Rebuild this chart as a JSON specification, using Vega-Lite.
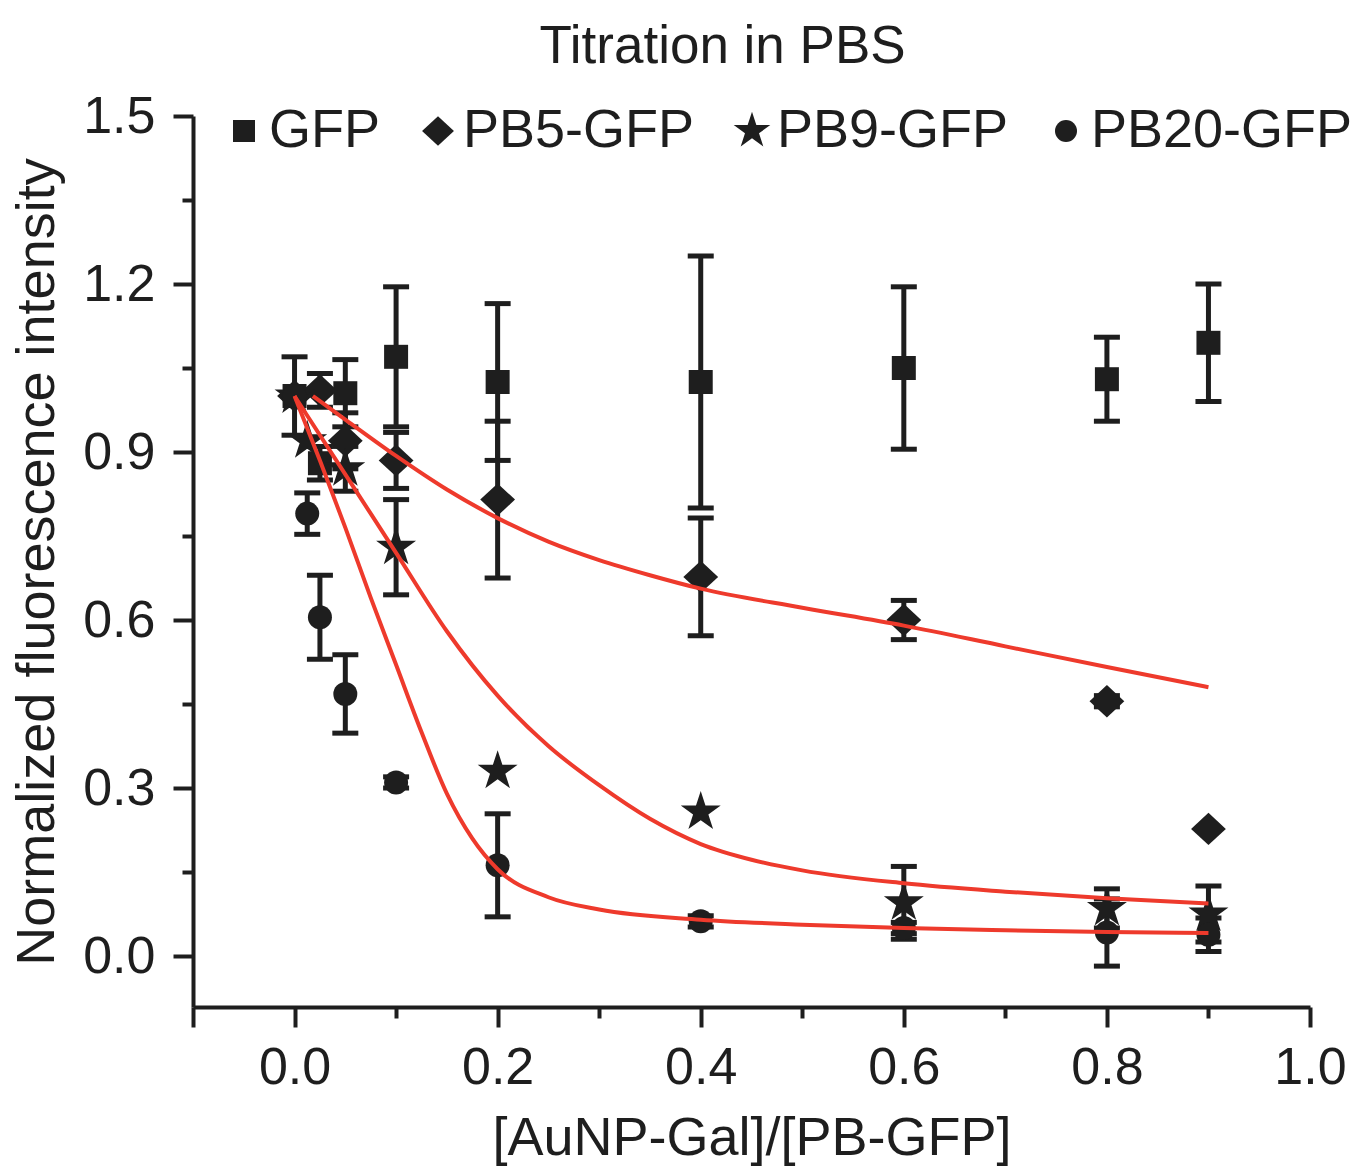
{
  "$schema": "https://vega.github.io/schema/vega-lite/v6.json",
  "autosize": "none",
  "width": 1117,
  "height": 891,
  "padding": {"left": 193, "top": 116, "right": 53, "bottom": 160},
  "background": "white",
  "title": {
    "text": "Titration in PBS",
    "font": "Liberation Sans",
    "fontSize": 53,
    "fontWeight": "normal",
    "color": "#1e1e1e",
    "anchor": "middle",
    "frame": "group",
    "baseline": "alphabetic",
    "offset": -26,
    "dx": -29
  },
  "config": {
    "view": {"stroke": null},
    "axis": {"grid": false}
  },
  "datasets": {
    "pts": [
      {"series": "GFP", "x": 0, "y": 1.0, "err": 0.07},
      {"series": "GFP", "x": 0.025, "y": 0.88, "err": 0.03},
      {"series": "GFP", "x": 0.05, "y": 1.005, "err": 0.06},
      {"series": "GFP", "x": 0.1, "y": 1.07, "err": 0.125},
      {"series": "GFP", "x": 0.2, "y": 1.025, "err": 0.14},
      {"series": "GFP", "x": 0.4, "y": 1.025, "err": 0.225},
      {"series": "GFP", "x": 0.6, "y": 1.05, "err": 0.145},
      {"series": "GFP", "x": 0.8, "y": 1.03, "err": 0.075},
      {"series": "GFP", "x": 0.9, "y": 1.095, "err": 0.105},
      {"series": "PB5-GFP", "x": 0, "y": 1.0, "err": 0},
      {"series": "PB5-GFP", "x": 0.025, "y": 1.01, "err": 0.03},
      {"series": "PB5-GFP", "x": 0.05, "y": 0.92, "err": 0.05},
      {"series": "PB5-GFP", "x": 0.1, "y": 0.885, "err": 0.05},
      {"series": "PB5-GFP", "x": 0.2, "y": 0.815, "err": 0.14},
      {"series": "PB5-GFP", "x": 0.4, "y": 0.677, "err": 0.105},
      {"series": "PB5-GFP", "x": 0.6, "y": 0.6, "err": 0.035},
      {"series": "PB5-GFP", "x": 0.8, "y": 0.455, "err": 0.01},
      {"series": "PB5-GFP", "x": 0.9, "y": 0.227, "err": 0},
      {"series": "PB9-GFP", "x": 0, "y": 1.0, "err": 0},
      {"series": "PB9-GFP", "x": 0.0125, "y": 0.92, "err": 0},
      {"series": "PB9-GFP", "x": 0.05, "y": 0.87, "err": 0.04},
      {"series": "PB9-GFP", "x": 0.1, "y": 0.73, "err": 0.085},
      {"series": "PB9-GFP", "x": 0.2, "y": 0.33, "err": 0},
      {"series": "PB9-GFP", "x": 0.4, "y": 0.257, "err": 0},
      {"series": "PB9-GFP", "x": 0.6, "y": 0.095, "err": 0.065},
      {"series": "PB9-GFP", "x": 0.8, "y": 0.085, "err": 0.035},
      {"series": "PB9-GFP", "x": 0.9, "y": 0.075, "err": 0.05},
      {"series": "PB20-GFP", "x": 0, "y": 1.0, "err": 0},
      {"series": "PB20-GFP", "x": 0.0125, "y": 0.79, "err": 0.037},
      {"series": "PB20-GFP", "x": 0.025, "y": 0.605, "err": 0.075},
      {"series": "PB20-GFP", "x": 0.05, "y": 0.468, "err": 0.07},
      {"series": "PB20-GFP", "x": 0.1, "y": 0.31, "err": 0.01},
      {"series": "PB20-GFP", "x": 0.2, "y": 0.162, "err": 0.092},
      {"series": "PB20-GFP", "x": 0.4, "y": 0.062, "err": 0.01},
      {"series": "PB20-GFP", "x": 0.6, "y": 0.05, "err": 0.01},
      {"series": "PB20-GFP", "x": 0.8, "y": 0.042, "err": 0.06},
      {"series": "PB20-GFP", "x": 0.9, "y": 0.038, "err": 0.03}
    ],
    "fits": [
      {"fit": "PB5", "x": 0.018, "y": 1.0},
      {"fit": "PB5", "x": 0.05, "y": 0.958},
      {"fit": "PB5", "x": 0.1, "y": 0.893},
      {"fit": "PB5", "x": 0.15, "y": 0.833},
      {"fit": "PB5", "x": 0.2, "y": 0.782},
      {"fit": "PB5", "x": 0.25, "y": 0.74},
      {"fit": "PB5", "x": 0.3, "y": 0.707},
      {"fit": "PB5", "x": 0.35, "y": 0.68},
      {"fit": "PB5", "x": 0.4, "y": 0.656},
      {"fit": "PB5", "x": 0.5, "y": 0.622},
      {"fit": "PB5", "x": 0.6, "y": 0.59},
      {"fit": "PB5", "x": 0.7, "y": 0.553},
      {"fit": "PB5", "x": 0.8, "y": 0.516},
      {"fit": "PB5", "x": 0.9, "y": 0.48},
      {"fit": "PB9", "x": 0, "y": 1.0},
      {"fit": "PB9", "x": 0.05, "y": 0.86},
      {"fit": "PB9", "x": 0.1, "y": 0.72},
      {"fit": "PB9", "x": 0.15, "y": 0.58},
      {"fit": "PB9", "x": 0.2, "y": 0.465},
      {"fit": "PB9", "x": 0.25, "y": 0.375},
      {"fit": "PB9", "x": 0.3, "y": 0.305},
      {"fit": "PB9", "x": 0.35, "y": 0.245},
      {"fit": "PB9", "x": 0.4, "y": 0.2},
      {"fit": "PB9", "x": 0.45, "y": 0.172},
      {"fit": "PB9", "x": 0.5, "y": 0.153},
      {"fit": "PB9", "x": 0.6, "y": 0.13},
      {"fit": "PB9", "x": 0.7, "y": 0.115},
      {"fit": "PB9", "x": 0.8, "y": 0.103},
      {"fit": "PB9", "x": 0.9, "y": 0.094},
      {"fit": "PB20", "x": 0, "y": 1.0},
      {"fit": "PB20", "x": 0.025, "y": 0.885},
      {"fit": "PB20", "x": 0.05, "y": 0.765},
      {"fit": "PB20", "x": 0.075, "y": 0.64},
      {"fit": "PB20", "x": 0.1, "y": 0.52},
      {"fit": "PB20", "x": 0.125, "y": 0.4},
      {"fit": "PB20", "x": 0.15, "y": 0.29},
      {"fit": "PB20", "x": 0.175, "y": 0.21},
      {"fit": "PB20", "x": 0.2, "y": 0.155},
      {"fit": "PB20", "x": 0.25, "y": 0.105},
      {"fit": "PB20", "x": 0.3, "y": 0.083},
      {"fit": "PB20", "x": 0.4, "y": 0.065},
      {"fit": "PB20", "x": 0.5, "y": 0.056},
      {"fit": "PB20", "x": 0.6, "y": 0.05},
      {"fit": "PB20", "x": 0.7, "y": 0.046},
      {"fit": "PB20", "x": 0.8, "y": 0.043},
      {"fit": "PB20", "x": 0.9, "y": 0.041}
    ]
  },
  "encoding": {
    "x": {
      "field": "x",
      "type": "quantitative",
      "scale": {"domain": [-0.1, 1.0], "nice": false, "zero": false},
      "axis": {
        "title": "[AuNP-Gal]/[PB-GFP]",
        "titleFont": "Liberation Sans",
        "titleFontSize": 54,
        "titleFontWeight": "normal",
        "titleColor": "#1e1e1e",
        "titlePadding": 18,
        "values": [-0.1, 0, 0.1, 0.2, 0.3, 0.4, 0.5, 0.6, 0.7, 0.8, 0.9, 1.0],
        "labelExpr": "(datum.value > -0.05 && round(datum.value*10) % 2 == 0) ? format(datum.value, '.1f') : ''",
        "labelFont": "Liberation Sans",
        "labelFontSize": 52,
        "labelColor": "#1e1e1e",
        "labelPadding": 15,
        "labelOverlap": false,
        "labelFlush": false,
        "domainColor": "#1e1e1e",
        "domainWidth": 4,
        "tickColor": "#1e1e1e",
        "tickWidth": 4,
        "tickSize": {"condition": {"test": "round(datum.value*10) % 2 == 0 || datum.value < -0.05", "value": 20}, "value": 11}
      }
    },
    "y": {
      "field": "y",
      "type": "quantitative",
      "scale": {"domain": [-0.091, 1.5], "nice": false, "zero": false},
      "axis": {
        "title": "Normalized fluorescence intensity",
        "titleFont": "Liberation Sans",
        "titleFontSize": 54,
        "titleFontWeight": "normal",
        "titleColor": "#1e1e1e",
        "titlePadding": 18,
        "values": [0, 0.15, 0.3, 0.45, 0.6, 0.75, 0.9, 1.05, 1.2, 1.35, 1.5],
        "labelExpr": "round(datum.value/0.15) % 2 == 0 ? format(datum.value, '.1f') : ''",
        "labelFont": "Liberation Sans",
        "labelFontSize": 52,
        "labelColor": "#1e1e1e",
        "labelPadding": 18,
        "labelOverlap": false,
        "labelFlush": false,
        "domainColor": "#1e1e1e",
        "domainWidth": 4,
        "tickColor": "#1e1e1e",
        "tickWidth": 4,
        "tickSize": {"condition": {"test": "round(datum.value/0.15) % 2 == 0", "value": 20}, "value": 11}
      }
    }
  },
  "layer": [
    {
      "data": {"name": "pts"},
      "transform": [{"filter": "datum.err > 0"}],
      "mark": {
        "type": "errorbar",
        "ticks": {"size": 26, "thickness": 5, "color": "#1e1e1e", "opacity": 1},
        "rule": {"strokeWidth": 5, "color": "#1e1e1e", "opacity": 1}
      },
      "encoding": {
        "yError": {"field": "err"}
      }
    },
    {
      "data": {"name": "pts"},
      "mark": {"type": "point", "filled": true, "opacity": 1, "color": "#1e1e1e", "size": 576},
      "encoding": {
        "shape": {
          "field": "series",
          "type": "nominal",
          "scale": {
            "domain": ["GFP", "PB5-GFP", "PB9-GFP", "PB20-GFP"],
            "range": [
              "square",
              "M-1.45,0L0,-1.35L1.45,0L0,1.35Z",
              "M0,-1.75L0.394,-0.542L1.664,-0.541L0.637,0.207L1.029,1.416L0,0.67L-1.029,1.416L-0.637,0.207L-1.664,-0.541L-0.394,-0.542Z",
              "circle"
            ]
          },
          "legend": {
            "title": null,
            "orient": "none",
            "legendX": 24,
            "legendY": -12,
            "direction": "horizontal",
            "symbolSize": 484,
            "symbolFillColor": "#1e1e1e",
            "symbolStrokeWidth": 0,
            "symbolOpacity": 1,
            "labelFont": "Liberation Sans",
            "labelFontSize": 54,
            "labelColor": "#1e1e1e",
            "labelOffset": -2,
            "labelLimit": 400,
            "columnPadding": 30
          }
        }
      }
    },
    {
      "data": {"name": "fits"},
      "mark": {"type": "line", "color": "#ee3a2c", "strokeWidth": 4, "interpolate": "monotone"},
      "encoding": {
        "detail": {"field": "fit", "type": "nominal"}
      }
    }
  ]
}
